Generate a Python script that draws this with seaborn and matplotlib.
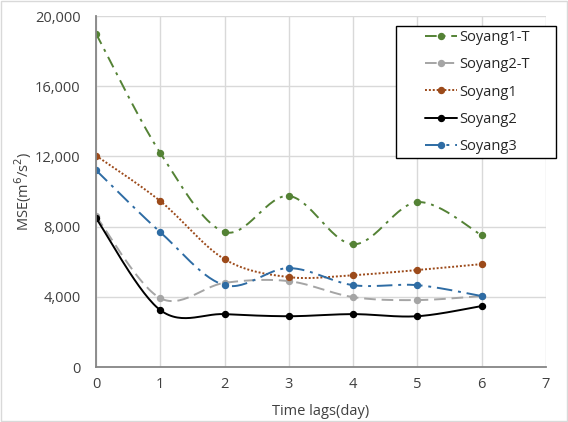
import numpy as np
import pandas as pd
import matplotlib.pyplot as plt
import seaborn as sns
from matplotlib.ticker import FuncFormatter

# data
lags = [0, 1, 2, 3, 4, 5, 6]
soyang1_t = [19000, 12200, 7700, 9750, 7000, 9400, 7520]
soyang2_t = [8600, 3930, 4800, 4900, 3990, 3820, 4050]
soyang1 = [12050, 9460, 6150, 5130, 5240, 5530, 5870]
soyang2 = [8490, 3250, 3020, 2900, 3020, 2900, 3480]
soyang3 = [11220, 7690, 4670, 5640, 4670, 4670, 4050]

series = ["Soyang1-T", "Soyang2-T", "Soyang1", "Soyang2", "Soyang3"]
values = [soyang1_t, soyang2_t, soyang1, soyang2, soyang3]
colors = ["#548235", "#A5A5A5", "#9C4A1A", "#000000", "#2E6CA4"]
styles = [(0, (6, 3, 1.5, 3)), (0, (6, 3)), (0, (1, 1)), "-", (0, (8, 3, 1.5, 3))]
lw = 1.4


def smooth(x, y, n=30):
    # Excel-like smoothed line (cubic Bezier through the points)
    x = np.asarray(x, float)
    y = np.asarray(y, float)
    px, py = [], []
    for i in range(len(x) - 1):
        x0, y0 = (x[i - 1], y[i - 1]) if i > 0 else (x[i], y[i])
        x3, y3 = (x[i + 2], y[i + 2]) if i + 2 < len(x) else (x[i + 1], y[i + 1])
        c1x = x[i] + (x[i + 1] - x0) / 6
        c1y = y[i] + (y[i + 1] - y0) / 6
        c2x = x[i + 1] - (x3 - x[i]) / 6
        c2y = y[i + 1] - (y3 - y[i]) / 6
        t = np.linspace(0, 1, n, endpoint=(i == len(x) - 2))
        px.append((1 - t) ** 3 * x[i] + 3 * (1 - t) ** 2 * t * c1x + 3 * (1 - t) * t ** 2 * c2x + t ** 3 * x[i + 1])
        py.append((1 - t) ** 3 * y[i] + 3 * (1 - t) ** 2 * t * c1y + 3 * (1 - t) * t ** 2 * c2y + t ** 3 * y[i + 1])
    return np.concatenate(px), np.concatenate(py)


sns.set_style("white")
plt.rcParams["font.family"] = ["Open Sans", "DejaVu Sans"]

fig, ax = plt.subplots(figsize=(5.68, 4.22), dpi=100)
fig.subplots_adjust(left=0.169, right=0.961, top=0.962, bottom=0.130)

for name, vals, c, ls in zip(series, values, colors, styles):
    sx, sy = smooth(lags, vals)
    sns.lineplot(x=sx, y=sy, ax=ax, color=c, linestyle=ls, linewidth=lw, sort=False)
    ax.plot(lags, vals, linestyle="none", color=c, marker="o", markersize=4.3)
    # legend proxy
    ax.plot([], [], linestyle=ls, color=c, linewidth=lw, marker="o", markersize=4.3, label=name)

ax.set_xlim(0, 7)
ax.set_ylim(0, 20000)
ax.set_xticks(range(0, 8))
ax.set_yticks(range(0, 20001, 4000))
ax.yaxis.set_major_formatter(FuncFormatter(lambda v, p: f"{int(v):,}"))
ax.grid(True, color="#D9D9D9", linewidth=1)
ax.set_axisbelow(True)
for s in ["top", "right"]:
    ax.spines[s].set_visible(False)
for s in ["left", "bottom"]:
    ax.spines[s].set_color("#858585")
    ax.spines[s].set_linewidth(1.3)
ax.tick_params(axis="both", labelsize=10.5, colors="#404040", length=0)
ax.tick_params(axis="y", pad=11)
ax.tick_params(axis="x", pad=7)
ax.set_xlabel("Time lags(day)", fontsize=10.5, color="#404040", labelpad=9)
ax.set_ylabel("MSE(m$^6$/s$^2$)", fontsize=10.5, color="#404040", labelpad=1)

# legend: content placed in figure pixels, frame drawn separately (wide side padding)
W, H = 568, 422
leg = ax.legend(loc="upper left", bbox_to_anchor=(425 / W, 1 - 30 / H),
                bbox_transform=fig.transFigure, fontsize=10.5, frameon=False,
                handlelength=2.2, labelspacing=0.84, borderpad=0, handletextpad=0.15,
                borderaxespad=0)
leg.set_zorder(6)
ax.add_patch(plt.Rectangle((396 / W, 1 - 158 / H), 160 / W, 132 / H, transform=fig.transFigure,
                           facecolor="white", edgecolor="black", linewidth=1.0,
                           clip_on=False, zorder=5.5))

fig.patches.append(plt.Rectangle((0.002, 0.002), 0.996, 0.996, transform=fig.transFigure,
                                 fill=False, edgecolor="#D9D9D9", linewidth=1))

fig.savefig("out.png", dpi=100)
